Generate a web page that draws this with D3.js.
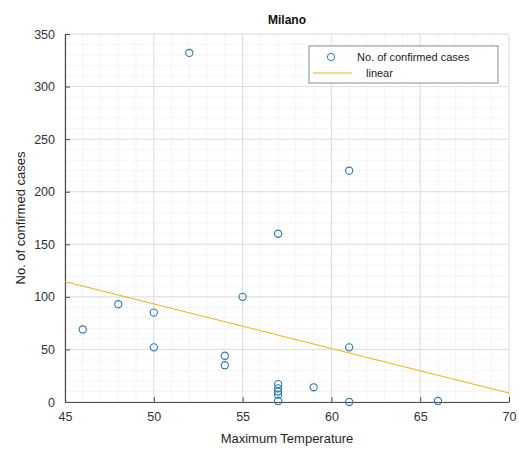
<!DOCTYPE html>
<html>
<head>
<meta charset="utf-8">
<script src="https://cdn.jsdelivr.net/npm/d3@7"></script>
<style>
  body { margin: 0; background: #fff; }
  text { font-family: "Liberation Sans", Arial, sans-serif; }
</style>
</head>
<body>
<svg id="chart" width="519" height="452"></svg>
<script>
// data
var temps = [46, 48, 50, 50, 52, 54, 54, 55, 57, 57, 57, 57, 57, 57, 59, 61, 61, 61, 66];
var cases = [69, 93, 85, 52, 332, 44, 35, 100, 160, 17, 13, 10, 7, 1, 14, 220, 52, 0, 1];
var fitX = [45, 70];
var fitY = [114.5, 8.5];
var xTicks = [45, 50, 55, 60, 65, 70];
var yTicks = [0, 50, 100, 150, 200, 250, 300, 350];

var margin = { top: 34, right: 10, bottom: 50, left: 65 };
var W = 519, H = 452;
var w = W - margin.left - margin.right;
var h = H - margin.top - margin.bottom;

var svg = d3.select("#chart");
var g = svg.append("g").attr("transform", "translate(" + margin.left + "," + margin.top + ")");

var x = d3.scaleLinear().domain([45, 70]).range([0, w]);
var y = d3.scaleLinear().domain([0, 350]).range([h, 0]);

// minor grid
g.append("g").selectAll("line")
  .data(d3.range(45, 70.01, 1))
  .enter().append("line")
  .attr("x1", function (d) { return x(d); })
  .attr("x2", function (d) { return x(d); })
  .attr("y1", 0).attr("y2", h)
  .attr("stroke", "#e6e6e6").attr("stroke-width", 0.8)
  .attr("stroke-dasharray", "1,1");
g.append("g").selectAll("line")
  .data(d3.range(0, 350.01, 10))
  .enter().append("line")
  .attr("y1", function (d) { return y(d); })
  .attr("y2", function (d) { return y(d); })
  .attr("x1", 0).attr("x2", w)
  .attr("stroke", "#e6e6e6").attr("stroke-width", 0.8)
  .attr("stroke-dasharray", "1,1");

// major grid
g.append("g").selectAll("line")
  .data(xTicks)
  .enter().append("line")
  .attr("x1", function (d) { return x(d); })
  .attr("x2", function (d) { return x(d); })
  .attr("y1", 0).attr("y2", h)
  .attr("stroke", "#dddddd").attr("stroke-width", 0.9);
g.append("g").selectAll("line")
  .data(yTicks)
  .enter().append("line")
  .attr("y1", function (d) { return y(d); })
  .attr("y2", function (d) { return y(d); })
  .attr("x1", 0).attr("x2", w)
  .attr("stroke", "#dddddd").attr("stroke-width", 0.9);

// axes
var xAxis = g.append("g")
  .attr("transform", "translate(0," + h + ")")
  .call(d3.axisBottom(x).tickValues(xTicks).tickSizeInner(-5).tickSizeOuter(0).tickPadding(10));
var yAxis = g.append("g")
  .call(d3.axisLeft(y).tickValues(yTicks).tickSizeInner(-5).tickSizeOuter(0).tickPadding(10));

[xAxis, yAxis].forEach(function (a) {
  a.select(".domain").attr("stroke", "#4d4d4d").attr("stroke-width", 1.2);
  a.selectAll(".tick line").attr("stroke", "#4d4d4d");
  a.selectAll(".tick text")
    .attr("fill", "#333")
    .style("font-size", "12.5px")
    .style("font-family", "'Liberation Sans', Arial, sans-serif");
});

// fit line
g.append("line")
  .attr("x1", x(fitX[0])).attr("y1", y(fitY[0]))
  .attr("x2", x(fitX[1])).attr("y2", y(fitY[1]))
  .attr("stroke", "#EDB120").attr("stroke-width", 1);

// points
g.append("g").selectAll("circle")
  .data(temps.map(function (t, i) { return [t, cases[i]]; }))
  .enter().append("circle")
  .attr("cx", function (d) { return x(d[0]); })
  .attr("cy", function (d) { return y(d[1]); })
  .attr("r", 3.6)
  .attr("fill", "none")
  .attr("stroke", "#2a78b0")
  .attr("stroke-width", 1.1);

// title and labels
svg.append("text")
  .attr("x", margin.left + w / 2).attr("y", 24)
  .attr("text-anchor", "middle")
  .style("font-size", "12px").style("font-weight", "bold")
  .attr("fill", "#111")
  .text("Milano");

svg.append("text")
  .attr("x", margin.left + w / 2).attr("y", H - 9)
  .attr("text-anchor", "middle")
  .style("font-size", "13px")
  .attr("fill", "#262626")
  .text("Maximum Temperature");

svg.append("text")
  .attr("transform", "translate(25," + (margin.top + h / 2) + ") rotate(-90)")
  .attr("text-anchor", "middle")
  .style("font-size", "13px")
  .attr("fill", "#262626")
  .text("No. of confirmed cases");

// legend
var lg = svg.append("g").attr("transform", "translate(309,46)");
lg.append("rect")
  .attr("width", 189).attr("height", 37)
  .attr("fill", "#fff").attr("stroke", "#6e6e6e").attr("stroke-width", 0.8);
lg.append("circle")
  .attr("cx", 22).attr("cy", 11).attr("r", 3.6)
  .attr("fill", "none").attr("stroke", "#2a78b0");
lg.append("text")
  .attr("x", 48).attr("y", 15)
  .style("font-size", "11px").attr("fill", "#222")
  .text("No. of confirmed cases");
lg.append("line")
  .attr("x1", 4).attr("x2", 43).attr("y1", 27).attr("y2", 27)
  .attr("stroke", "#EDB120");
lg.append("text")
  .attr("x", 57).attr("y", 31)
  .style("font-size", "11px").attr("fill", "#222")
  .text("linear");
</script>
</body>
</html>
